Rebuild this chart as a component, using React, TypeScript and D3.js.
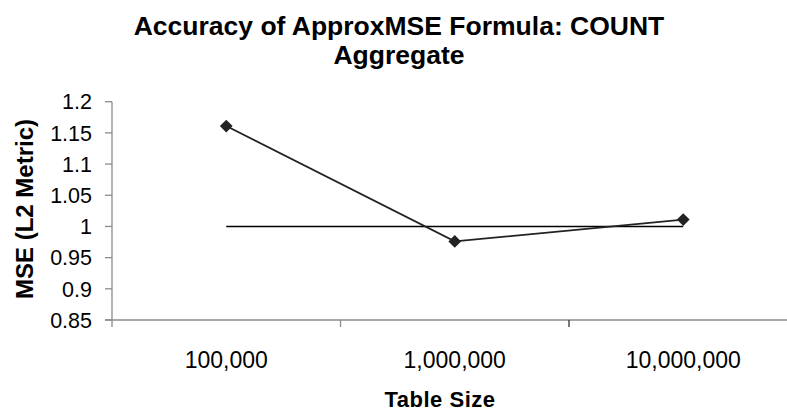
import React, { useEffect, useRef } from "react";
import { select, scaleBand, scaleLinear, line } from "d3";

const categories = ["100,000", "1,000,000", "10,000,000"];
const mseValues = [1.161, 0.976, 1.011];
const referenceValues = [1, 1, 1];
const yTicks = [0.85, 0.9, 0.95, 1, 1.05, 1.1, 1.15, 1.2];

const W = 787;
const H = 413;
const FONT = "'Liberation Sans', Arial, sans-serif";

const App = () => {
  const svgRef = useRef<SVGSVGElement>(null);

  useEffect(() => {
    const svg = select(svgRef.current);
    svg.selectAll("*").remove();

    const left = 112;
    const top = 101.7;
    const bottom = 320;
    const right = 797.5;

    const x = scaleBand().domain(categories).range([left, right]);
    const y = scaleLinear().domain([0.85, 1.2]).range([bottom, top]);
    const cx = (d: string) => (x(d) as number) + x.bandwidth() / 2;

    svg.append("rect").attr("width", W).attr("height", H).attr("fill", "#fff");

    // Title
    const title = svg
      .append("text")
      .attr("text-anchor", "middle")
      .style("font-family", FONT)
      .style("font-weight", "bold")
      .style("font-size", "26.5px")
      .attr("fill", "#000");
    title.append("tspan").attr("x", 399).attr("y", 35).text("Accuracy of ApproxMSE Formula: COUNT");
    title.append("tspan").attr("x", 399).attr("y", 64).text("Aggregate");

    // Axes
    const axisColor = "#8c8c8c";
    svg.append("line")
      .attr("x1", left).attr("x2", left)
      .attr("y1", top).attr("y2", bottom + 7)
      .attr("stroke", axisColor).attr("stroke-width", 1.3);
    svg.append("line")
      .attr("x1", left - 7).attr("x2", W)
      .attr("y1", bottom).attr("y2", bottom)
      .attr("stroke", axisColor).attr("stroke-width", 1.3);

    yTicks.forEach((t) => {
      svg.append("line")
        .attr("x1", left - 7).attr("x2", left)
        .attr("y1", y(t)).attr("y2", y(t))
        .attr("stroke", axisColor).attr("stroke-width", 1.3);
      svg.append("text")
        .attr("x", 92)
        .attr("y", y(t))
        .attr("dy", "0.36em")
        .attr("text-anchor", "end")
        .style("font-family", FONT)
        .style("font-size", "21.5px")
        .attr("fill", "#000")
        .text(String(t));
    });

    categories.forEach((c, i) => {
      const xt = (x(c) as number) + x.bandwidth();
      if (i < categories.length - 1) {
        svg.append("line")
          .attr("x1", xt).attr("x2", xt)
          .attr("y1", bottom).attr("y2", bottom + 7)
          .attr("stroke", i === 1 ? "#333" : axisColor).attr("stroke-width", 1.3);
      }
      svg.append("text")
        .attr("x", cx(c))
        .attr("y", 368)
        .attr("text-anchor", "middle")
        .style("font-family", FONT)
        .style("font-size", "23px")
        .attr("fill", "#000")
        .text(c);
    });

    // Axis titles
    svg.append("text")
      .attr("x", 440)
      .attr("y", 407)
      .attr("text-anchor", "middle")
      .style("font-family", FONT)
      .style("font-weight", "bold")
      .style("font-size", "22px")
      .style("letter-spacing", "0.5px")
      .attr("fill", "#000")
      .text("Table Size");

    svg.append("text")
      .attr("transform", `translate(33,209) rotate(-90)`)
      .attr("text-anchor", "middle")
      .style("font-family", FONT)
      .style("font-weight", "bold")
      .style("font-size", "24px")
      .attr("fill", "#000")
      .text("MSE (L2 Metric)");

    // Reference line at 1
    const gen = line<number>()
      .x((_, i) => cx(categories[i]))
      .y((d) => y(d));

    svg.append("path")
      .datum(referenceValues)
      .attr("d", gen)
      .attr("fill", "none")
      .attr("stroke", "#000")
      .attr("stroke-width", 1.6);

    svg.append("path")
      .datum(mseValues)
      .attr("d", gen)
      .attr("fill", "none")
      .attr("stroke", "#222")
      .attr("stroke-width", 1.8);

    svg.selectAll(".marker")
      .data(mseValues)
      .enter()
      .append("rect")
      .attr("class", "marker")
      .attr("x", -4.5)
      .attr("y", -4.5)
      .attr("width", 9)
      .attr("height", 9)
      .attr("fill", "#222")
      .attr("transform", (d, i) => `translate(${cx(categories[i])},${y(d)}) rotate(45)`);
  }, []);

  return (
    <svg
      ref={svgRef}
      width={W}
      height={H}
      style={{ position: "absolute", left: 0, top: 0 }}
    />
  );
};

export default App;
